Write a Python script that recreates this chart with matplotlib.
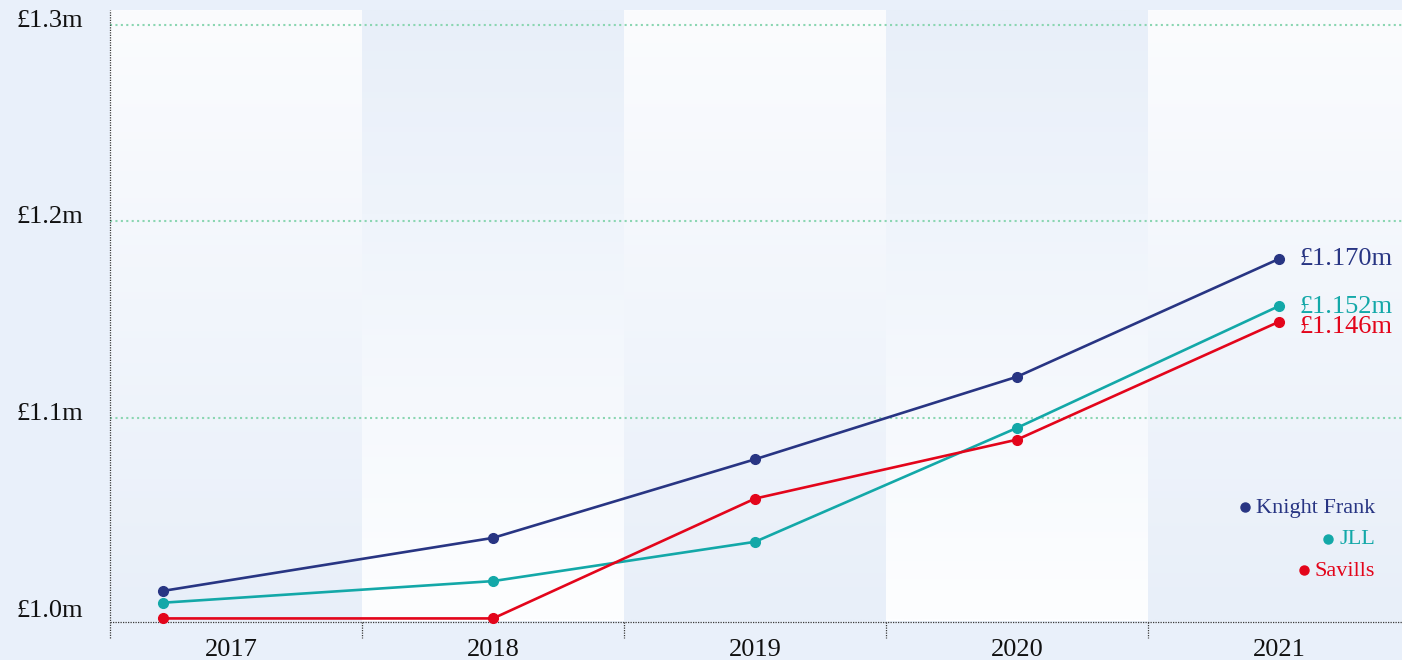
import numpy as np
import matplotlib
matplotlib.use("Agg")
import matplotlib.pyplot as plt
import matplotlib.transforms as mtransforms
from matplotlib.colors import to_rgb

# ---- data ----
years = ["2017", "2018", "2019", "2020", "2021"]
year_centres = [2017, 2018, 2019, 2020, 2021]
x_points = [2016.74, 2018.0, 2019.0, 2020.0, 2021.0]
knight_frank = [1.012, 1.039, 1.079, 1.121, 1.181]
jll = [1.006, 1.017, 1.037, 1.095, 1.157]
savills = [0.998, 0.998, 1.059, 1.089, 1.149]
series_names = ["Knight Frank", "JLL", "Savills"]
end_labels = ["£1.170m", "£1.152m", "£1.146m"]
y_ticks = [1.0, 1.1, 1.2, 1.3]
y_tick_labels = ["£1.0m", "£1.1m", "£1.2m", "£1.3m"]

colors = ["#283583", "#13a8a8", "#e3051b"]
BG = "#e9f0fa"
WHITE = "#fbfcfe"
GRID = "#8bd6b2"
AXC = "#3a3a3a"
FONT = ["Liberation Serif", "DejaVu Serif"]

W, H = 1402, 660
fig = plt.figure(figsize=(W / 100, H / 100), dpi=100, facecolor=BG)
ax = fig.add_axes([110 / W, (H - 621.5) / H, (W - 110) / W, (621.5 - 10) / H])
ax.set_facecolor(BG)

x_lo, x_hi = 2016.538, 2021.469
y_lo, y_hi = 0.99644, 1.30763

# alternating gradient bands
band_edges = [2016.5, 2017.5, 2018.5, 2019.5, 2020.5, 2021.5]
c_white = np.array(to_rgb(WHITE))
c_blue = np.array(to_rgb("#e8eff9"))
t = np.linspace(0, 1, 200)[:, None]
for i in range(len(band_edges) - 1):
    if i % 2 == 0:
        top, bot = c_white, c_blue
    else:
        top, bot = c_blue, np.array(to_rgb("#fdfeff"))
    grad = top[None, :] * (1 - t) + bot[None, :] * t
    img = np.repeat(grad[:, None, :], 2, axis=1)
    ax.imshow(img, extent=[band_edges[i], band_edges[i + 1], y_lo, y_hi],
              origin="upper", aspect="auto", zorder=0, interpolation="bilinear")
ax.set_xlim(x_lo, x_hi)
ax.set_ylim(y_lo, y_hi)

# gridlines (not at 1.0)
for v in y_ticks[1:]:
    ax.axhline(v, color=GRID, lw=1.5, linestyle=(0, (1, 1.6)), zorder=1)

for s in ax.spines.values():
    s.set_visible(False)
ax.set_xticks([])
ax.set_yticks([])

bt = mtransforms.blended_transform_factory(ax.transData, ax.transAxes)
# axes lines (dotted) + tick marks
ax.plot([x_lo, x_lo], [-0.027, 1.0], transform=bt,
        color=AXC, lw=0.9, linestyle=(0, (1, 1)), clip_on=False, zorder=3)
ax.plot([0, 1], [0, 0], transform=ax.transAxes, color=AXC, lw=0.9,
        linestyle=(0, (1, 1)), clip_on=False, zorder=3)
for xe in band_edges[1:-1]:
    ax.plot([xe, xe], [0, -0.027], transform=bt, color=AXC, lw=0.9,
            linestyle=(0, (1, 1)), clip_on=False, zorder=3)

# year labels
for xc, lab in zip(year_centres, years):
    ax.text(xc, -0.047, lab, transform=bt, ha="center", va="center",
            fontsize=19, family=FONT, color="#111111")

# y tick labels
for v, lab in zip(y_ticks, y_tick_labels):
    ax.annotate(lab, xy=(x_lo, v), xycoords="data", xytext=(-27, 4),
                textcoords="offset pixels", ha="right", va="center",
                fontsize=19, family=FONT, color="#111111", annotation_clip=False)

# series
all_series = [knight_frank, jll, savills]
for vals, c in zip(all_series, colors):
    ax.plot(x_points, vals, color=c, lw=1.9, marker="o", markersize=7,
            zorder=4, clip_on=False, solid_capstyle="round")

# end labels
end_nudge = [0, -1, -5]
for vals, c, lab, dy in zip(all_series, colors, end_labels, end_nudge):
    ax.annotate(lab, xy=(x_points[-1], vals[-1]), xytext=(20, dy),
                textcoords="offset pixels", ha="left", va="center",
                fontsize=19, family=FONT, color=c, annotation_clip=False)

# custom legend (right aligned text, dot to the left)
legend_y_px = [508, 540, 571]
fig.canvas.draw()
renderer = fig.canvas.get_renderer()
for name, c, ypx in zip(series_names, colors, legend_y_px):
    yf = 1 - ypx / H
    txt = fig.text(1375 / W, yf, name, ha="right", va="center", fontsize=16,
                   family=FONT, color=c)
    bb = txt.get_window_extent(renderer=renderer)
    fig.lines.append(plt.Line2D([(bb.x0 - 11) / W], [yf + 1 / H], marker="o",
                                markersize=6.5, color=c, transform=fig.transFigure,
                                linestyle="none"))

fig.savefig("out.png", dpi=100, facecolor=BG)
